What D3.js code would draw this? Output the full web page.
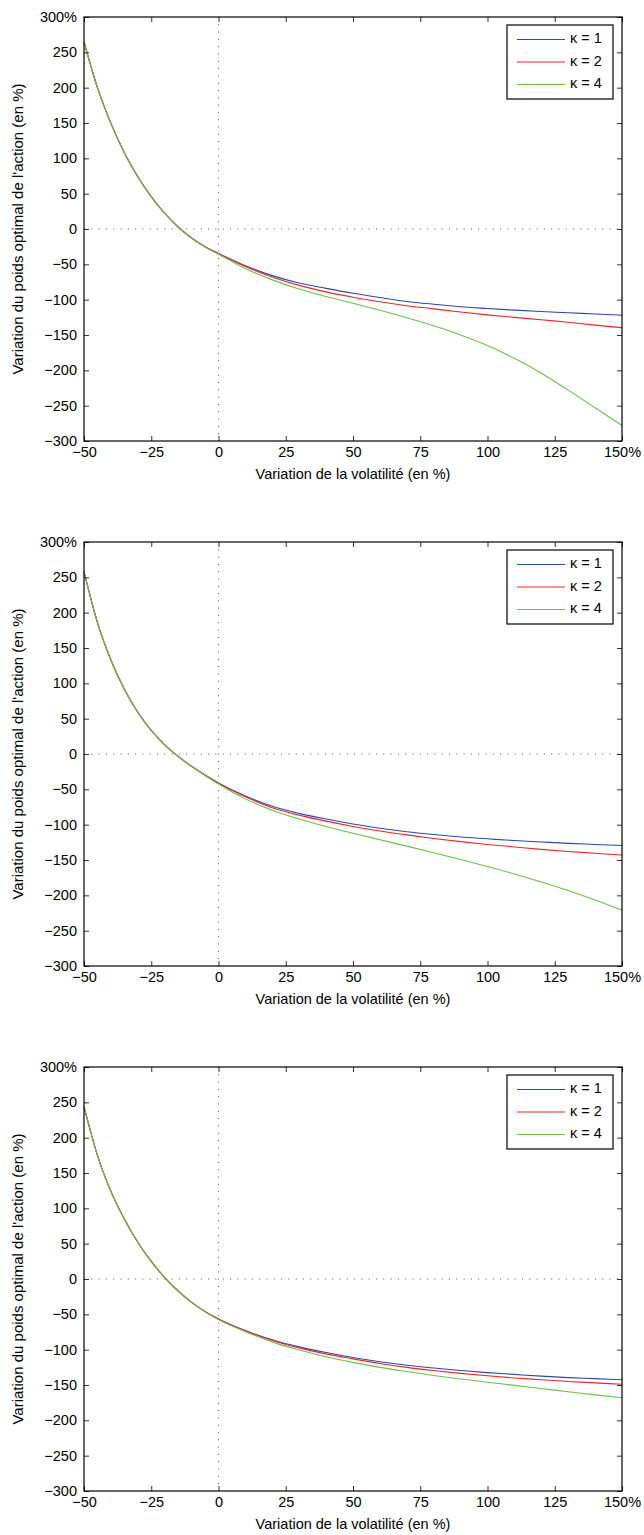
<!DOCTYPE html>
<html>
<head>
<meta charset="utf-8">
<script src="https://cdn.jsdelivr.net/npm/d3@7"></script>
<style>
  body { margin: 0; background: #fff; }
  svg { display: block; font-family: "Liberation Sans", Arial, sans-serif; }
</style>
</head>
<body>
<div id="chart"></div>
<script>
// x values (variation de la volatilite, %)
const volVar = [-50,-45,-40,-35,-30,-25,-20,-15,-10,-5,0,10,20,30,40,50,60,70,80,90,100,110,120,130,140,150]

// panel 1
const p1k1 = [265,200,149.5,108,74,45.8,22.3,2.8,-12.8,-25.1,-34.6,-52,-66,-76.5,-84,-91,-97,-102.5,-106.5,-110,-112.5,-114.8,-116.8,-118.5,-120.3,-122]
const p1k2 = [265,200,149.5,108,74,45.8,22.3,2.8,-12.8,-25.2,-35,-53,-68,-79.8,-89,-96.5,-103,-108.5,-113,-117.5,-121.5,-125,-128.5,-132,-136,-139.6]
const p1k4 = [265,200,149.5,108,74,45.8,22.3,2.8,-12.9,-25.6,-35.8,-56,-72,-85,-95.5,-105,-115,-125.5,-137,-150,-165,-183,-204,-228,-253,-278]

// panel 2
const p2k1 = [258,186,133,91.5,59,33.3,13,-3.4,-17.4,-29.8,-41,-59.5,-74,-84,-92,-99,-105,-110,-114,-117.5,-120,-122.5,-124.5,-126.5,-128,-129.5]
const p2k2 = [258,186,133,91.5,59,33.3,13,-3.4,-17.5,-30,-41.5,-60.5,-76,-86.5,-95,-102.5,-109,-114.5,-119.5,-124,-128,-131.5,-135,-138,-140.5,-143]
const p2k4 = [258,186,133,91.5,59,33.3,13,-3.4,-17.7,-30.4,-42.5,-63.5,-79.5,-92,-102.5,-112.1,-121.3,-130.4,-139.7,-149.3,-159.3,-169.8,-181,-193.2,-206.7,-221]

// panel 3
const p3k1 = [244,175,124,85,52,25,2,-17,-33,-46,-56.5,-73,-86,-96,-104,-111,-117,-122,-126,-129.5,-132.5,-135,-137.5,-139.5,-141,-142.5]
const p3k2 = [244,175,124,85,52,25,2,-17,-33,-46,-57,-73.5,-87,-97.5,-106,-113,-119.5,-125,-129.5,-133.5,-137,-140,-142.5,-145,-147,-149]
const p3k4 = [244,175,124,85,52,25,2,-17,-33,-46.2,-57.5,-74.5,-89,-100.5,-110,-118,-125,-131,-136.5,-141.5,-146,-150.5,-155,-159.5,-164,-168]

const kappaNames = ['κ = 1', 'κ = 2', 'κ = 4']
const kappaColors = ['#2c48a8', '#f02428', '#6cbf48']
const xTicks = [-50,-25,0,25,50,75,100,125,150]
const yTicks = [-300,-250,-200,-150,-100,-50,0,50,100,150,200,250,300]

const panels = [[p1k1,p1k2,p1k4],[p2k1,p2k2,p2k4],[p3k1,p3k2,p3k4]]

const visWidth = 644
const visHeight = 1535
const margin = ({left: 84, plotW: 538, plotH: 424})
const panelTops = [17, 542, 1067]

const svg = d3.select('#chart').append('svg')
    .attr('width', visWidth)
    .attr('height', visHeight)

const x = d3.scaleLinear().domain([-50, 150]).range([0, margin.plotW])
const y = d3.scaleLinear().domain([-300, 300]).range([margin.plotH, 0])

const fmt = d3.format('d')

panels.forEach((series, i) => drawPanel(series, panelTops[i]))

function drawPanel(series, top) {
  const g = svg.append('g')
      .attr('transform', `translate(${margin.left}, ${top})`)

  // zero lines, dotted
  g.append('line')
      .attr('x1', x(0)).attr('x2', x(0))
      .attr('y1', 0).attr('y2', margin.plotH)
      .attr('stroke', '#555').attr('stroke-width', 1)
      .attr('stroke-dasharray', '1,6.3')
  g.append('line')
      .attr('x1', 0).attr('x2', margin.plotW)
      .attr('y1', y(0)).attr('y2', y(0))
      .attr('stroke', '#555').attr('stroke-width', 1)
      .attr('stroke-dasharray', '1,6.3')

  // curves
  const line = d3.line()
      .x((d, j) => x(volVar[j]))
      .y(d => y(d))
      .curve(d3.curveMonotoneX)

  g.selectAll('path.curve')
    .data(series)
    .join('path')
      .attr('class', 'curve')
      .attr('d', d => line(d))
      .attr('fill', 'none')
      .attr('stroke', (d, j) => kappaColors[j])
      .attr('stroke-width', 1.1)

  // axes, ticks inside on all four sides
  const bottom = g.append('g')
      .attr('transform', `translate(0, ${margin.plotH})`)
      .call(d3.axisBottom(x).tickValues(xTicks).tickSize(-5).tickPadding(6)
        .tickFormat(d => d === 150 ? '150%' : fmt(d)))
  const top_ = g.append('g')
      .call(d3.axisTop(x).tickValues(xTicks).tickSize(-5).tickFormat(''))
  const left = g.append('g')
      .call(d3.axisLeft(y).tickValues(yTicks).tickSize(-5).tickPadding(7)
        .tickFormat(d => d === 300 ? '300%' : fmt(d)))
  const right = g.append('g')
      .attr('transform', `translate(${margin.plotW}, 0)`)
      .call(d3.axisRight(y).tickValues(yTicks).tickSize(-5).tickFormat(''))

  ;[bottom, top_, left, right].forEach(a => {
    a.select('.domain').remove()
    a.selectAll('.tick line').attr('stroke', '#333')
    a.selectAll('.tick text').attr('fill', '#000').attr('font-size', 14.5)
      .attr('font-family', '"Liberation Sans", Arial, sans-serif')
  })

  // box
  g.append('rect')
      .attr('width', margin.plotW)
      .attr('height', margin.plotH)
      .attr('fill', 'none')
      .attr('stroke', '#000')
      .attr('stroke-width', 1.2)

  // axis labels
  g.append('text')
      .attr('x', margin.plotW / 2)
      .attr('y', margin.plotH + 38)
      .attr('text-anchor', 'middle')
      .attr('font-size', 14.5)
      .text('Variation de la volatilité (en %)')
  g.append('text')
      .attr('transform', `translate(${19 - margin.left}, ${margin.plotH / 2}) rotate(-90)`)
      .attr('text-anchor', 'middle')
      .attr('dominant-baseline', 'middle')
      .attr('font-size', 15)
      .text("Variation du poids optimal de l'action (en %)")

  // legend
  const leg = g.append('g')
      .attr('transform', `translate(${507 - margin.left}, 8)`)
  leg.append('rect')
      .attr('width', 106)
      .attr('height', 74)
      .attr('fill', '#fff')
      .attr('stroke', '#000')
      .attr('stroke-width', 1.2)
  const rows = leg.selectAll('g.row')
    .data(kappaNames)
    .join('g')
      .attr('class', 'row')
      .attr('transform', (d, j) => `translate(0, ${14.5 + j * 22.5})`)
  rows.append('line')
      .attr('x1', 10).attr('x2', 58)
      .attr('stroke', (d, j) => kappaColors[j])
      .attr('stroke-width', 1.1)
  rows.append('text')
      .attr('x', 63)
      .attr('dominant-baseline', 'middle')
      .attr('font-size', 14.5)
      .text(d => d)
}
</script>
</body>
</html>
